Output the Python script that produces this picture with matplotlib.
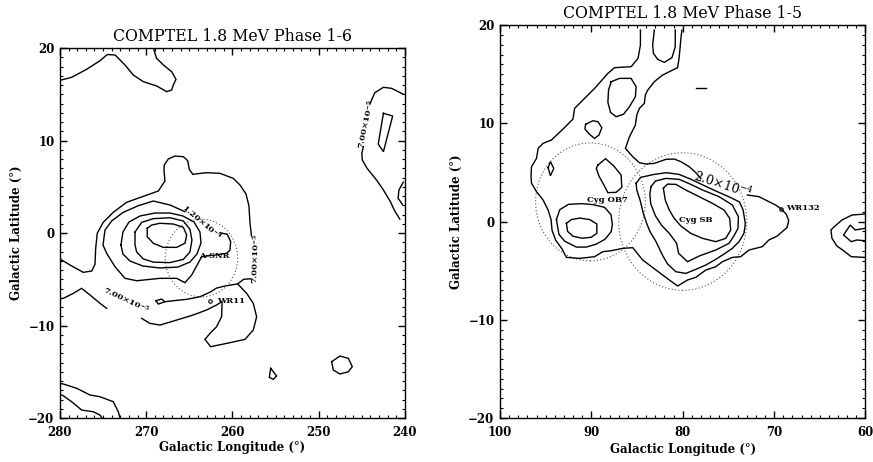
import matplotlib
matplotlib.use('Agg')
import matplotlib.pyplot as plt
from matplotlib.patches import Circle
from matplotlib.ticker import MultipleLocator

plt.rcParams['font.family'] = 'DejaVu Serif'
plt.rcParams['mathtext.fontset'] = 'dejavuserif'

# ---------------- left map: Vela region, phase 1-6 (lon, lat) ----------------
vela_top = [(280.0, 16.5), (279.6, 16.6), (278.65, 16.83), (276.9, 17.7), (275.36, 18.63),
            (274.5, 19.3), (273.6, 19.24), (272.46, 18.16), (271.5, 17.08), (270.34, 16.36),
            (268.8, 15.9), (267.63, 15.28), (267.05, 15.46), (266.86, 16.0), (266.55, 16.61),
            (267.05, 17.44), (268.0, 18.16), (268.8, 18.88), (269.1, 19.78), (269.1, 20.0)]

vela_east_a = [(240.2, 15.0), (241.55, 15.64), (242.5, 15.75), (243.5, 15.17), (243.87, 14.38),
               (244.06, 13.95)]
vela_east_b = [(244.83, 9.33), (245.0, 8.6), (244.95, 7.9), (244.4, 7.0), (243.3, 5.73),
               (242.5, 4.65), (241.7, 3.4), (241.2, 2.4), (240.6, 1.5)]
vela_east_quad = [(242.5, 12.94), (241.43, 12.65), (242.5, 8.79), (243.1, 9.62)]
vela_east_edge = [(240.2, 5.5), (240.7, 4.65), (240.8, 3.75), (240.3, 3.1)]

# 7.00e-5 contour around the Vela complex, split at its labels
vela_outer_a = [(280.0, -2.8), (278.84, -3.46), (277.3, -4.25), (276.32, -4.11), (275.94, -3.38),
                (275.86, -1.65), (275.68, -0.03), (274.98, 1.16), (273.82, 2.24), (272.27, 3.32),
                (270.14, 4.03), (268.6, 4.54), (267.83, 5.62), (267.94, 6.81), (267.91, 7.35),
                (267.44, 8.0), (266.67, 8.32), (265.7, 8.25), (265.19, 7.82), (265.01, 6.89),
                (264.61, 6.35), (262.99, 6.52), (261.45, 6.45), (259.91, 5.91), (259.13, 5.19),
                (258.43, 4.22), (258.09, 2.92), (257.97, 1.08), (257.8, -0.32)]
vela_outer_b = [(257.9, -4.95), (258.7, -5.0), (259.4, -5.5), (258.36, -6.52), (257.59, -7.6),
                (257.2, -9.05), (257.59, -10.49), (258.55, -11.5), (260.67, -11.93),
                (262.53, -12.29), (263.19, -11.5), (262.61, -10.85), (261.84, -10.13),
                (261.26, -9.05), (261.2, -7.4), (261.84, -7.78), (263.0, -8.32), (264.54, -8.86),
                (266.47, -9.41), (268.41, -9.95), (269.57, -9.77), (270.53, -9.23)]
vela_outer_c = [(274.59, -8.14), (275.36, -7.6), (276.52, -6.7), (277.49, -5.98), (278.45, -6.52),
                (279.6, -7.06), (280.0, -7.1)]
vela_inner_link = [(267.83, -7.43), (266.86, -7.32), (265.31, -7.17), (263.77, -6.89),
                   (262.61, -6.4), (261.84, -5.95), (260.87, -5.73), (259.4, -5.5)]
vela_knot = [(268.87, -7.32), (268.21, -7.14), (267.83, -7.43), (268.6, -7.68)]

# 1.20e-4 contour (open at its label) and the inner rings
vela_ring2 = [(261.45, 0.03), (260.6, -0.14), (260.21, -0.94), (260.29, -1.84), (260.67, -2.19),
              (262.03, -2.38), (263.57, -2.56), (264.73, -4.54), (265.51, -5.37), (266.47, -4.9),
              (268.41, -4.9), (271.11, -5.16), (272.46, -4.9), (273.62, -3.64), (274.59, -2.19),
              (275.01, -1.3), (274.78, 0.32), (274.01, 1.3), (272.66, 2.24), (270.92, 2.95),
              (269.18, 3.46), (267.25, 3.03), (265.51, 2.3)]
vela_ring3 = [(272.93, -1.3), (272.7, 0.11), (272.0, 1.19), (270.72, 1.84), (268.99, 2.16),
              (267.25, 2.16), (265.74, 1.84), (264.46, 1.19), (263.77, 0.11), (263.65, -1.08),
              (264.12, -2.27), (264.93, -3.14), (266.32, -3.68), (268.41, -3.78), (270.38, -3.57),
              (271.88, -3.03), (272.7, -2.27)]
vela_ring4 = [(271.3, 0.11), (270.53, 1.15), (269.18, 1.55), (267.25, 1.65), (265.7, 1.3),
              (264.93, 0.4), (264.7, -0.76), (264.93, -2.05), (265.7, -2.85), (267.25, -3.2),
              (269.18, -3.15), (270.34, -2.8), (271.11, -2.05), (271.3, -1.3)]
vela_ring5 = [(269.88, 0.51), (269.37, 0.86), (268.41, 1.05), (266.86, 0.97), (265.7, 0.62),
              (265.31, -0.22), (265.51, -1.11), (266.47, -1.55), (268.02, -1.55), (269.18, -1.11),
              (269.88, -0.4)]

vela_south_1 = [(280.0, -16.27), (279.62, -16.32), (278.06, -16.79), (276.52, -17.51),
                (275.36, -17.7), (273.82, -18.24), (273.24, -19.32), (273.04, -20.0)]
vela_south_2 = [(280.0, -17.46), (279.62, -17.59), (278.64, -18.24), (277.48, -19.14),
                (276.14, -19.32), (275.36, -19.68), (275.13, -20.0)]
vela_islet_1 = [(255.57, -14.63), (255.73, -15.6), (255.27, -15.82), (254.88, -15.46)]
vela_islet_2 = [(248.5, -13.91), (247.54, -13.3), (246.57, -13.55), (246.11, -14.45),
                (246.57, -15.0), (247.54, -15.24), (248.31, -14.81)]

vela_circle = (263.6, -2.7, 4.2)
wr11 = (262.6, -7.4)

# ---------------- right map: Cygnus region, phase 1-5 ----------------
cyg_outer_a = [(84.63, 19.49), (84.63, 17.96), (84.89, 16.61), (85.65, 15.76), (87.47, 15.66),
               (88.19, 15.08), (89.65, 13.55), (90.92, 12.37), (91.83, 11.52), (92.01, 10.43),
               (93.1, 9.41), (94.37, 8.3), (95.28, 7.96), (95.82, 7.45), (96.0, 6.43),
               (96.55, 5.58), (96.6, 4.6), (96.55, 3.9), (96.0, 3.04), (95.28, 2.19),
               (94.73, 1.17), (94.4, 0.15), (94.3, -0.9), (93.9, -1.9), (93.2, -2.8),
               (92.73, -3.65), (91.28, -3.75), (89.65, -3.58), (88.74, -3.07), (87.83, -2.97),
               (86.56, -2.73), (85.47, -2.66), (84.38, -3.92), (82.92, -4.94), (81.47, -5.95),
               (80.56, -6.56), (79.47, -5.95), (78.57, -5.68), (77.48, -4.94), (76.39, -4.6),
               (75.66, -4.09), (74.57, -3.65), (73.66, -3.58), (72.75, -2.9), (71.3, -2.56),
               (70.57, -1.88), (69.66, -1.48), (68.58, -0.6), (68.4, 0.1), (68.68, 0.76),
               (69.3, 1.34), (69.84, 1.68), (70.93, 2.19), (71.66, 2.53), (72.93, 2.7)]
cyg_outer_b = [(78.02, 4.39), (78.57, 4.97), (79.29, 5.58), (80.2, 6.09), (80.93, 6.36),
               (81.83, 6.33), (83.11, 5.92), (84.01, 5.85), (84.74, 5.99), (85.47, 6.6),
               (86.27, 7.45), (85.83, 8.63), (85.18, 9.82), (85.03, 10.84), (84.74, 11.52),
               (84.2, 12.03), (84.09, 12.88), (83.83, 13.38), (83.11, 14.23), (82.2, 14.91),
               (81.47, 15.25), (80.56, 15.66), (80.38, 16.78), (80.2, 18.64), (80.09, 19.49)]

cyg_arm_top = [(83.11, 19.49), (83.29, 17.96), (83.21, 17.12), (82.74, 16.51), (82.02, 16.2),
               (81.18, 16.68), (80.82, 17.79), (80.82, 19.49)]
cyg_arm_mid = [(87.83, 14.23), (86.92, 14.57), (85.65, 14.57), (85.1, 13.72), (85.18, 12.71),
               (85.83, 11.69), (86.49, 10.91), (87.29, 10.67), (87.9, 11.11), (88.19, 12.13),
               (88.12, 13.38)]
cyg_arm_low = [(90.63, 9.89), (89.83, 10.26), (89.28, 10.16), (88.85, 9.55), (89.17, 8.8),
               (89.65, 8.46), (90.19, 8.87), (90.7, 9.41)]
cyg_arm_dot = [(94.73, 5.48), (94.48, 6.09), (94.11, 5.41), (94.48, 4.66)]
cyg_ob7_top = [(89.28, 5.75), (88.45, 6.4), (87.54, 5.65), (86.74, 4.73), (86.67, 3.48),
               (87.29, 2.97), (88.19, 2.94), (88.63, 3.72), (89.17, 4.63), (89.46, 5.41)]
cyg_ob7_outer = [(93.82, 0.2), (93.46, 1.2), (92.5, 1.75), (91.0, 1.82), (89.83, 1.72),
                 (88.56, 1.45), (87.85, 0.7), (87.7, -0.3), (87.83, -1.03), (88.5, -1.8),
                 (89.46, -2.3), (90.55, -2.6), (91.64, -2.6), (92.92, -2.0), (93.55, -1.3)]
cyg_ob7_inner = [(92.73, -0.19), (92.19, 0.2), (91.28, 0.35), (90.19, 0.2), (89.4, -0.25),
                 (89.4, -1.2), (90.0, -1.6), (91.0, -1.7), (92.0, -1.5), (92.6, -1.0)]

cyg_sb_2 = [(85.1, 3.9), (84.6, 4.5), (83.1, 4.8), (81.8, 4.97), (80.4, 4.8), (79.1, 4.3),
            (78.2, 3.9), (76.6, 3.2), (74.9, 2.5), (73.8, 2.0), (73.4, 1.2), (73.15, -0.2),
            (73.3, -1.2), (73.84, -2.05), (74.57, -2.73), (75.48, -3.31), (76.39, -3.85),
            (77.48, -4.43), (78.57, -4.87), (79.66, -5.28), (80.75, -5.11), (81.65, -4.33),
            (82.13, -3.58), (82.49, -2.9), (82.92, -2.05), (83.58, -1.03), (83.94, -0.2),
            (84.31, 0.83), (84.67, 2.19), (85.03, 3.21)]
cyg_sb_3 = [(83.47, 3.55), (82.99, 4.12), (81.83, 4.39), (80.38, 4.29), (79.11, 3.78),
            (77.84, 3.21), (76.02, 2.53), (74.57, 1.68), (73.91, 0.49), (73.95, -0.7),
            (74.39, -1.45), (74.93, -2.22), (76.39, -2.9), (78.2, -3.51), (79.47, -4.09),
            (80.45, -3.24), (80.67, -2.22), (81.47, -1.2), (82.3, -0.4), (83.0, 0.6),
            (83.5, 1.8), (83.6, 2.8)]
cyg_sb_4 = [(82.12, 3.38), (81.65, 3.81), (80.74, 3.78), (79.65, 3.2), (78.2, 2.53),
            (76.75, 1.85), (75.48, 1.17), (74.86, 0.32), (74.75, -0.87), (75.29, -1.71),
            (76.38, -2.05), (77.84, -1.71), (79.11, -1.21), (80.2, -0.46), (80.93, 0.32),
            (81.47, 1.17), (81.91, 2.19)]

cyg_west_a = [(60.1, 0.76), (61.49, 0.66), (62.58, 0.15), (63.49, -0.59), (63.78, -0.86),
              (63.67, -1.71), (63.13, -2.49), (62.4, -2.97), (61.56, -3.58), (60.1, -3.65)]
cyg_west_b = [(60.1, -0.7), (61.13, -0.86), (61.67, -0.36), (62.4, -1.37), (61.56, -2.05),
              (60.95, -1.88), (60.1, -1.95)]
cyg_dash = [(78.6, 13.55), (77.5, 13.55)]

cyg_ob7_circle = (90.1, 2.0, 6.0)
cyg_sb_circle = (80.0, 0.0, 7.0)
wr132 = (69.3, 1.3)


def trace(ax, pts, closed=False):
    if closed:
        pts = list(pts) + [pts[0]]
    lon = [p[0] for p in pts]
    lat = [p[1] for p in pts]
    ax.plot(lon, lat, color='black', lw=1.0, solid_joinstyle='miter')


def ring(ax, c):
    ax.add_patch(Circle((c[0], c[1]), c[2], fill=False, ec='#555555', lw=0.8,
                        ls=(0, (1, 2))))


def note(ax, x, y, s, rot=0, size=6, weight='bold'):
    ax.text(x, y, s, rotation=rot, rotation_mode='anchor', ha='center', va='center',
            fontsize=size, fontweight=weight)


def frame(ax, xlim, title):
    ax.set_xlim(*xlim)
    ax.set_ylim(-20, 20)
    ax.xaxis.set_major_locator(MultipleLocator(10))
    ax.xaxis.set_minor_locator(MultipleLocator(1))
    ax.yaxis.set_major_locator(MultipleLocator(10))
    ax.yaxis.set_minor_locator(MultipleLocator(1))
    ax.tick_params(which='both', direction='in', top=True, right=True, labelsize=8.5)
    ax.tick_params(which='major', length=5, width=1)
    ax.tick_params(which='minor', length=2.5, width=0.8)
    ax.tick_params(axis='x', pad=6)
    ax.tick_params(axis='y', pad=4)
    for lab in ax.get_xticklabels() + ax.get_yticklabels():
        lab.set_fontweight('bold')
    for s in ax.spines.values():
        s.set_linewidth(1.0)
    ax.set_title(title, fontsize=11.3, fontweight='normal', pad=5)
    ax.set_xlabel('Galactic Longitude (°)', fontsize=8.5, fontweight='bold')
    ax.set_ylabel('Galactic Latitude (°)', fontsize=8.5, fontweight='bold')


fig = plt.figure(figsize=(8.73, 4.62), dpi=100)
ax1 = fig.add_axes([0.0687, 0.0952, 0.3952, 0.8009])
ax2 = fig.add_axes([0.5727, 0.0952, 0.4187, 0.8506])

lab_70 = '7.00×10$^{\\mathbf{-5}}$'

# left panel
for p in [vela_top, vela_east_a, vela_east_b, vela_east_edge, vela_outer_a, vela_outer_b,
          vela_outer_c, vela_inner_link, vela_ring2, vela_south_1, vela_south_2]:
    trace(ax1, p)
for p in [vela_east_quad, vela_knot, vela_ring3, vela_ring4, vela_ring5, vela_islet_1,
          vela_islet_2]:
    trace(ax1, p, closed=True)
ring(ax1, vela_circle)
ax1.plot(*wr11, marker='o', ms=2.5, mfc='none', mec='black', mew=0.8)
note(ax1, 260.2, -7.4, 'WR11')
note(ax1, 262.1, -2.5, 'A-SNR')
note(ax1, 263.6, 1.1, '1.20×10$^{\\mathbf{-4}}$', rot=-40)
note(ax1, 257.3, -2.8, lab_70, rot=88)
note(ax1, 272.3, -7.3, lab_70, rot=-25)
note(ax1, 244.5, 11.7, lab_70, rot=78)
frame(ax1, (280, 240), 'COMPTEL 1.8 MeV Phase 1-6')
ax1.yaxis.set_label_coords(-0.107, 0.5)
ax1.xaxis.set_label_coords(0.5, -0.062)

# right panel
for p in [cyg_outer_a, cyg_outer_b, cyg_arm_top, cyg_west_a, cyg_west_b, cyg_dash]:
    trace(ax2, p)
for p in [cyg_arm_mid, cyg_arm_low, cyg_arm_dot, cyg_ob7_top, cyg_ob7_outer, cyg_ob7_inner,
          cyg_sb_2, cyg_sb_3, cyg_sb_4]:
    trace(ax2, p, closed=True)
ring(ax2, cyg_ob7_circle)
ring(ax2, cyg_sb_circle)
ax2.plot(*wr132, marker='o', ms=2.5, mfc='none', mec='black', mew=0.8)
note(ax2, 66.9, 1.35, 'WR132')
note(ax2, 88.2, 2.2, 'Cyg OB7')
note(ax2, 78.6, 0.15, 'Cyg SB')
note(ax2, 75.6, 3.7, '2.0×10$^{-4}$', rot=-18, size=9, weight='normal')
frame(ax2, (100, 60), 'COMPTEL 1.8 MeV Phase 1-5')
ax2.yaxis.set_label_coords(-0.100, 0.5)
ax2.xaxis.set_label_coords(0.5, -0.0636)

fig.savefig('out.png', dpi=100)
